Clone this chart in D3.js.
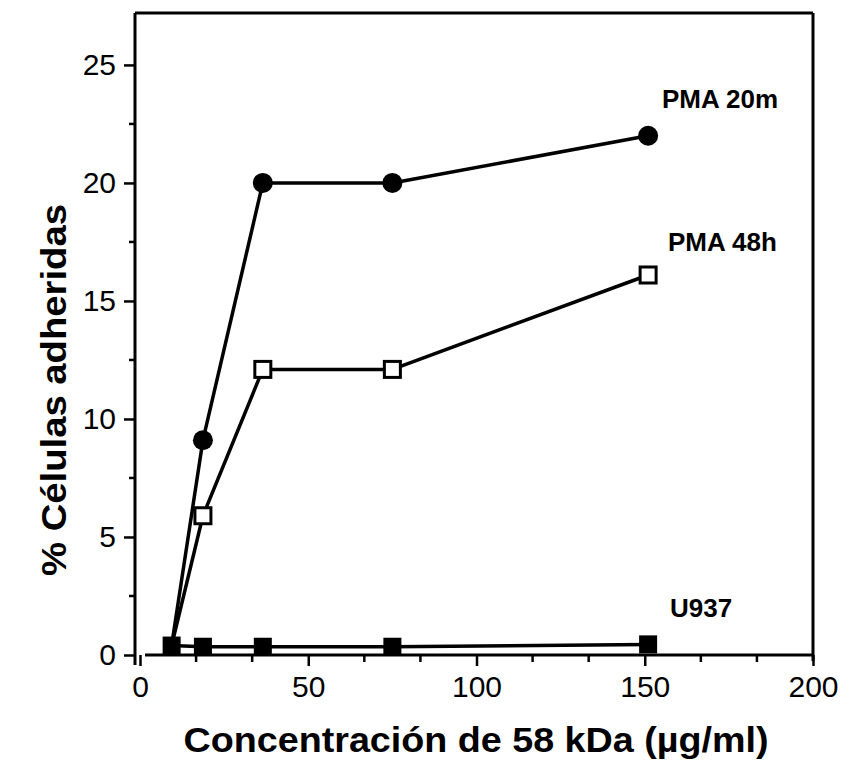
<!DOCTYPE html>
<html>
<head>
<meta charset="utf-8">
<script src="https://cdn.jsdelivr.net/npm/d3@7"></script>
<style>
  html, body { margin: 0; padding: 0; background: #fff; }
  svg { display: block; font-family: "Liberation Sans", Arial, Helvetica, sans-serif; }
</style>
</head>
<body>
<svg id="chart" width="849" height="767"></svg>
<script>
// ---- data ----
const concentrations = [9.4, 18.7, 36.5, 75, 151];
const pma20m = [0.4, 9.1, 20.0, 20.0, 22.0];
const pma48h = [0.4, 5.9, 12.1, 12.1, 16.1];
const u937   = [0.4, 0.35, 0.35, 0.35, 0.45];
const seriesNames = ["PMA 20m", "PMA 48h", "U937"];
const xTickLabels = [0, 50, 100, 150, 200];
const yTickLabels = [0, 5, 10, 15, 20, 25];
const xTitle = "Concentración de 58 kDa (\u00b5g/ml)";
const yTitle = "% Células adheridas";

// ---- layout ----
const svg = d3.select("#chart");
const x = d3.scaleLinear().domain([0, 200]).range([140, 813]);
const y = d3.scaleLinear().domain([0, 27.2]).range([655, 13]);
const yAxisX = 135;
const xAxisY = y(0);

// frame (top and right)
svg.append("line").attr("x1", yAxisX).attr("x2", x(200)).attr("y1", y(27.2)).attr("y2", y(27.2))
  .attr("stroke", "#000").attr("stroke-width", 3);
svg.append("line").attr("x1", x(200)).attr("x2", x(200)).attr("y1", y(27.2)).attr("y2", xAxisY + 6)
  .attr("stroke", "#000").attr("stroke-width", 3);

// x axis
const xMinor = d3.range(0, 201, 50 / 3).filter(v => !xTickLabels.some(t => Math.abs(t - v) < 1e-6));
const xAxis = svg.append("g").attr("transform", `translate(0,${xAxisY})`)
  .call(d3.axisBottom(x).tickValues(xTickLabels).tickSize(11).tickPadding(10).tickFormat(d3.format("d")));
xAxis.select(".domain").remove();
xAxis.append("line").attr("x1", 145).attr("x2", x(200)).attr("stroke", "#000").attr("stroke-width", 3);
xAxis.selectAll(".tick line").attr("stroke-width", 2.5);
xAxis.selectAll(".tick text").attr("font-size", 30).attr("fill", "#000");
xAxis.selectAll(".minor").data(xMinor).enter().append("line")
  .attr("x1", d => x(d)).attr("x2", d => x(d)).attr("y1", 0).attr("y2", 7)
  .attr("stroke", "#000").attr("stroke-width", 2.5);

// y axis
const yMinor = d3.range(2.5, 27.2, 5);
const yAxis = svg.append("g").attr("transform", `translate(${yAxisX},0)`)
  .call(d3.axisLeft(y).tickValues(yTickLabels).tickSize(11).tickPadding(8).tickFormat(d3.format("d")));
yAxis.select(".domain").remove();
yAxis.append("line").attr("y1", y(27.2)).attr("y2", xAxisY + 10).attr("stroke", "#000").attr("stroke-width", 3);
yAxis.selectAll(".tick line").attr("stroke-width", 2.5);
yAxis.selectAll(".tick text").attr("font-size", 30).attr("fill", "#000");
yAxis.selectAll(".minor").data(yMinor).enter().append("line")
  .attr("y1", d => y(d)).attr("y2", d => y(d)).attr("x1", 0).attr("x2", -6)
  .attr("stroke", "#000").attr("stroke-width", 2.5);

// titles
svg.append("text").attr("x", 476).attr("y", 752).attr("text-anchor", "middle")
  .attr("font-size", 35).attr("font-weight", "bold")
  .attr("textLength", 585).attr("lengthAdjust", "spacingAndGlyphs").text(xTitle);
svg.append("text").attr("transform", "translate(66,390) rotate(-90)").attr("text-anchor", "middle")
  .attr("font-size", 35).attr("font-weight", "bold")
  .attr("textLength", 372).attr("lengthAdjust", "spacingAndGlyphs").text(yTitle);

// lines
const line = d3.line().x(d => x(d[0])).y(d => y(d[1]));
const series = [
  { name: seriesNames[0], values: pma20m, marker: "circle" },
  { name: seriesNames[1], values: pma48h, marker: "open" },
  { name: seriesNames[2], values: u937, marker: "filled" }
];
series.forEach(s => {
  const pts = concentrations.map((c, i) => [c, s.values[i]]);
  svg.append("path").datum(pts).attr("d", line).attr("fill", "none")
    .attr("stroke", "#000").attr("stroke-width", 3.5).attr("stroke-linejoin", "round");
});
// markers drawn after all lines
series.forEach(s => {
  const pts = concentrations.map((c, i) => [c, s.values[i]]);
  if (s.marker === "circle") {
    svg.selectAll(null).data(pts.slice(1)).enter().append("circle")
      .attr("cx", d => x(d[0])).attr("cy", d => y(d[1])).attr("r", 10).attr("fill", "#000");
  } else if (s.marker === "open") {
    svg.selectAll(null).data(pts.slice(1)).enter().append("rect")
      .attr("x", d => x(d[0]) - 8).attr("y", d => y(d[1]) - 8).attr("width", 16).attr("height", 16)
      .attr("fill", "#fff").attr("stroke", "#000").attr("stroke-width", 3);
  } else {
    svg.selectAll(null).data(pts).enter().append("rect")
      .attr("x", d => x(d[0]) - 9).attr("y", d => y(d[1]) - 9).attr("width", 18).attr("height", 18)
      .attr("fill", "#000");
  }
});

// series labels
const labelPos = [[662, 108], [668, 251], [670, 617]];
seriesNames.forEach((n, i) => {
  svg.append("text").attr("x", labelPos[i][0]).attr("y", labelPos[i][1])
    .attr("font-size", 26).attr("font-weight", "bold").text(n);
});
</script>
</body>
</html>
